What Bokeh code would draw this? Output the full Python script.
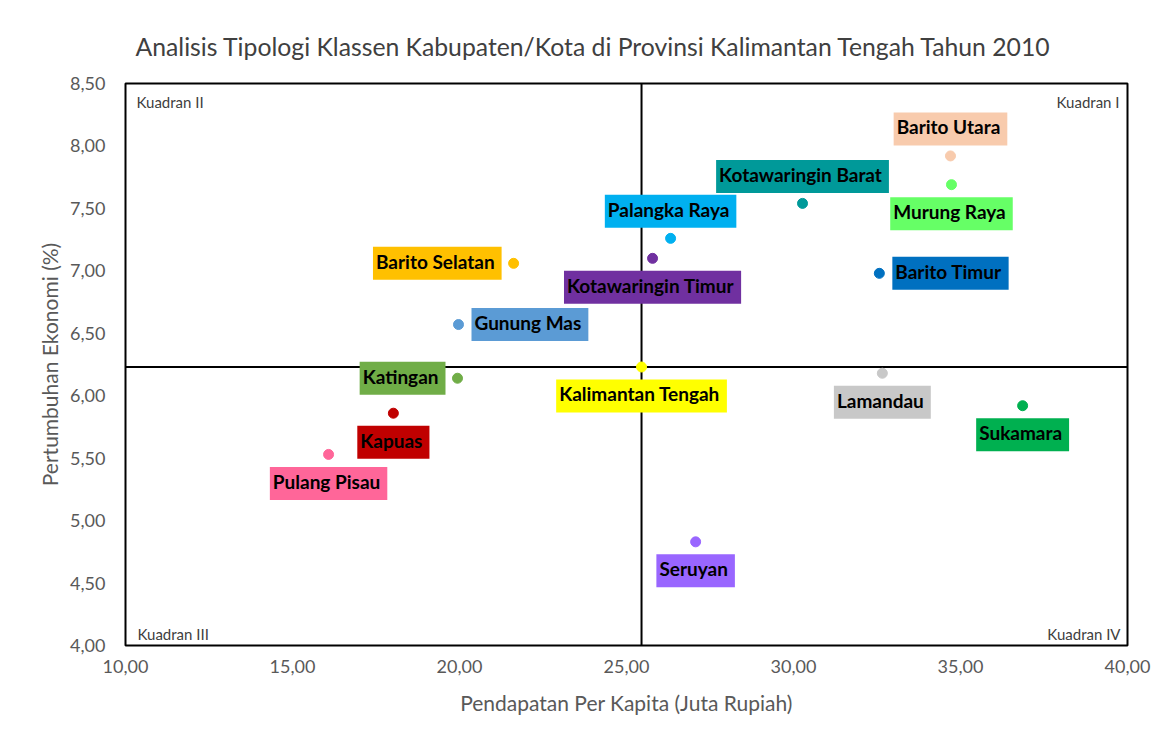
from bokeh.plotting import figure
from bokeh.models import Range1d, FixedTicker, CustomJSTickFormatter, Span, Label
from bokeh.core.properties import value
from bokeh.embed import file_html
from bokeh.resources import INLINE

# ---------------- data ----------------
regions = ["Barito Utara", "Murung Raya", "Kotawaringin Barat", "Palangka Raya",
           "Kotawaringin Timur", "Barito Selatan", "Barito Timur", "Gunung Mas",
           "Kalimantan Tengah", "Katingan", "Lamandau", "Sukamara", "Kapuas",
           "Pulang Pisau", "Seruyan"]
pendapatan_per_kapita = [34.70, 34.73, 30.27, 26.32, 25.78, 21.62, 32.57, 19.97,
                         25.45, 19.94, 32.66, 36.86, 18.02, 16.08, 27.07]
pertumbuhan_ekonomi = [7.92, 7.69, 7.54, 7.26, 7.10, 7.06, 6.98, 6.57,
                       6.23, 6.14, 6.18, 5.92, 5.86, 5.53, 4.83]
x_ticks = [10, 15, 20, 25, 30, 35, 40]
y_ticks = [4.0, 4.5, 5.0, 5.5, 6.0, 6.5, 7.0, 7.5, 8.0, 8.5]
quadrant_names = ["Kuadran I", "Kuadran II", "Kuadran III", "Kuadran IV"]
provinsi = "Kalimantan Tengah"
title_text = "Analisis Tipologi Klassen Kabupaten/Kota di Provinsi Kalimantan Tengah Tahun 2010"

# ---------------- styles ----------------
colors = ["#F8CBAD", "#66FF66", "#009999", "#00B0F0", "#7030A0", "#FFC000",
          "#0070C0", "#5B9BD5", "#FFFF00", "#70AD47", "#C8C8C8", "#00B050",
          "#C00000", "#FF6699", "#9966FF"]
placement = ["above", "below", "above", "above", "below", "left", "right", "right",
             "below", "left", "below", "below", "below", "below", "below"]

FONT = "Lato"
PADX, PADY = 7, 3

p = figure(width=1168, height=735, output_backend="svg", toolbar_location=None,
           x_range=Range1d(10, 40), y_range=Range1d(4, 8.5),
           min_border_left=125, min_border_right=41, min_border_top=83,
           min_border_bottom=90)
p.outline_line_color = "black"
p.outline_line_width = 2
p.xgrid.visible = False
p.ygrid.visible = False
p.background_fill_color = "white"
p.border_fill_color = "white"

p.title.text = title_text
p.title.align = "left"
p.title.offset = 10
p.title.standoff = 46
p.title.text_font = FONT
p.title.text_font_size = "24.75px"
p.title.text_font_style = "normal"
p.title.text_color = "#404040"

fmt = CustomJSTickFormatter(code="return tick.toFixed(2).replace('.', ',');")
for ax, ticks in ((p.xaxis[0], x_ticks), (p.yaxis[0], y_ticks)):
    ax.ticker = FixedTicker(ticks=ticks)
    ax.formatter = fmt
    ax.axis_line_color = None
    ax.major_tick_line_color = None
    ax.minor_tick_line_color = None
    ax.major_label_text_font = FONT
    ax.major_label_text_font_size = "18px"
    ax.major_label_text_color = "#595959"
    ax.axis_label_text_font = FONT
    ax.axis_label_text_font_size = "21px"
    ax.axis_label_text_font_style = "normal"
    ax.axis_label_text_color = "#595959"

p.xaxis.axis_label = "Pendapatan Per Kapita (Juta Rupiah)"
p.yaxis.axis_label = "Pertumbuhan Ekonomi (%)"
p.xaxis.major_label_standoff = 8
p.yaxis.major_label_standoff = 14
p.xaxis.axis_label_standoff = 14
p.yaxis.axis_label_standoff = 5

# quadrant divider lines at the provincial values
ip = regions.index(provinsi)
p.add_layout(Span(location=pendapatan_per_kapita[ip], dimension="height",
                  line_color="black", line_width=2, level="underlay"))
p.add_layout(Span(location=pertumbuhan_ekonomi[ip], dimension="width",
                  line_color="black", line_width=2, level="underlay"))

# points
p.scatter(pendapatan_per_kapita, pertumbuhan_ekonomi, size=10, fill_color=colors,
          line_color=colors)

# labels with coloured boxes
for name, xv, yv, c, pl in zip(regions, pendapatan_per_kapita, pertumbuhan_ekonomi,
                               colors, placement):
    if pl == "above":
        align, xo, yo = "center", 0, -27
    elif pl == "below":
        align, xo, yo = "center", 0, 29
    elif pl == "left":
        align, xo, yo = "right", -12, 0
    else:
        align, xo, yo = "left", 13, 0
    p.text(x=[xv], y=[yv], text=[name], text_align=align, text_baseline="middle",
           x_offset=xo, y_offset=yo, text_font=value(FONT), text_font_style="bold",
           text_font_size="19px", text_color="black",
           background_fill_color=c, padding=(PADY, PADX, PADY, PADX))

# quadrant labels
xr, yr = p.x_range, p.y_range
qpos = [(xr.end, yr.end, "right", -8, -18), (xr.start, yr.end, "left", 11, -18),
        (xr.start, yr.start, "left", 12, 12), (xr.end, yr.start, "right", -7, 12)]
for q, (qx, qy, qa, qxo, qyo) in zip(quadrant_names, qpos):
    p.add_layout(Label(x=qx, y=qy, text=q, text_align=qa, text_baseline="middle",
                       x_offset=qxo, y_offset=qyo, text_font=FONT,
                       text_font_size="15px", text_color="#404040"))

open("out.html", "w").write(file_html(p, INLINE))
